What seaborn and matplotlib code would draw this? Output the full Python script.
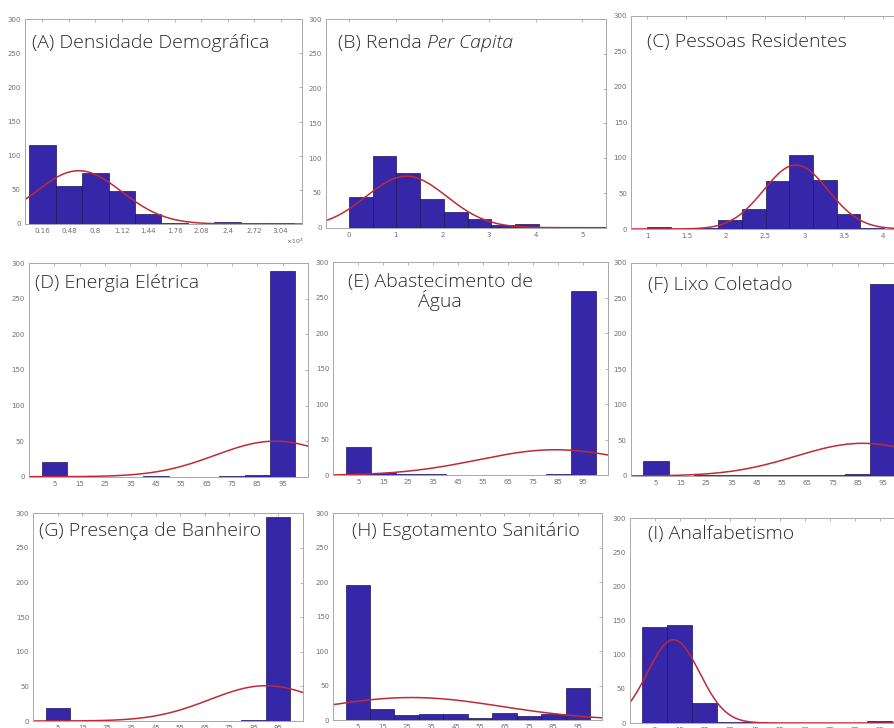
import numpy as np
import matplotlib
matplotlib.use("Agg")
import matplotlib.pyplot as plt
import seaborn as sns

# contagens por classe (10 classes em cada painel)
dens_counts = [116, 56, 74, 49, 14, 1, 0, 3, 1, 1]
renda_counts = [44, 103, 79, 41, 22, 13, 4, 6, 1, 1]
pessoas_counts = [3, 0, 1, 12, 28, 68, 104, 69, 21, 2]
energia_counts = [20, 1, 0, 0, 1, 0, 0, 1, 2, 289]
agua_counts = [40, 3, 2, 2, 1, 0, 1, 1, 2, 259]
lixo_counts = [21, 0, 1, 1, 2, 1, 2, 2, 3, 270]
banheiro_counts = [19, 0, 0, 0, 0, 0, 0, 0, 1, 294]
esgoto_counts = [196, 16, 8, 9, 9, 3, 11, 6, 9, 47]
analf_counts = [141, 143, 29, 1, 1, 0, 0, 0, 0, 3]

# inicio e largura das classes
dens_bins = (0.0, 0.32)
renda_bins = (0.0, 0.508)
pessoas_bins = (1.0, 0.301)
pct_bins = (0.0, 10.0)

# ajuste normal (media, desvio, altura do pico)
dens_fit = (0.60, 0.52, 78)
renda_fit = (1.23, 0.865, 74)
pessoas_fit = (2.89, 0.41, 90)
energia_fit = (92, 23.5, 50)
agua_fit = (84, 31, 36)
lixo_fit = (87, 26.5, 46)
banheiro_fit = (90, 23, 51)
esgoto_fit = (27, 37, 33)
analf_fit = (12.5, 10.4, 122)

dens_ticks = [0.16, 0.48, 0.8, 1.12, 1.44, 1.76, 2.08, 2.4, 2.72, 3.04]
dens_labels = ["0.16", "0.48", "0.8", "1.12", "1.44", "1.76", "2.08", "2.4", "2.72", "3.04"]
renda_ticks = [0, 1, 2, 3, 4, 5]
pessoas_ticks = [1, 1.5, 2, 2.5, 3, 3.5, 4]
pessoas_labels = ["1", "1.5", "2", "2.5", "3", "3.5", "4"]
pct_ticks = [5, 15, 25, 35, 45, 55, 65, 75, 85, 95]
y_ticks = [0, 50, 100, 150, 200, 250, 300]

W, H = 894, 728
BAR = "#3527a8"
EDGE = "#1c145e"
CURVE = "#bf2a36"
TXT = "#2b2b2b"

sns.set_style("white")
plt.rcParams["font.family"] = ["DejaVu Sans"]

fig = plt.figure(figsize=(W / 100, H / 100), dpi=100)


def px_axes(l, t, r, b):
    return fig.add_axes([l / W, 1 - b / H, (r - l) / W, (b - t) / H])


def painel(box, counts, bins, fit, xlim, ticks, labels=None):
    ax = px_axes(*box)
    start, width = bins
    edges = [start + width * k for k in range(len(counts) + 1)]
    centers = [start + width * (k + 0.5) for k in range(len(counts))]
    sns.histplot(x=centers, weights=counts, bins=edges, ax=ax, color=BAR,
                 alpha=1, edgecolor=EDGE, linewidth=0.5)
    mu, sd, peak = fit
    xs = np.linspace(xlim[0], xlim[1], 300)
    ys = peak * np.exp(-0.5 * ((xs - mu) / sd) ** 2)
    sns.lineplot(x=xs, y=ys, ax=ax, color=CURVE, lw=1.1)
    ax.set_xlim(*xlim)
    ax.set_ylim(0, 300)
    ax.set_xticks(ticks)
    ax.set_xticklabels(labels if labels else [str(t) for t in ticks])
    ax.set_yticks(y_ticks)
    ax.set_ylabel("")
    ax.set_xlabel("")
    ax.tick_params(direction="in", length=2, width=0.5, top=True, right=True,
                   labelsize=5, labelcolor="#707070", color="#999999", pad=3)
    for s in ax.spines.values():
        s.set_color("#a8a8a8")
        s.set_linewidth(0.7)
    return ax


painel((25, 19, 302, 224), dens_counts, dens_bins, dens_fit, (-0.05, 3.3),
       dens_ticks, dens_labels)
painel((325.7, 19, 605.7, 227.7), renda_counts, renda_bins, renda_fit, (-0.5, 5.5),
       renda_ticks)
painel((631.3, 15.7, 899, 229), pessoas_counts, pessoas_bins, pessoas_fit, (0.8, 4.2),
       pessoas_ticks, pessoas_labels)
painel((29, 263.3, 308, 476.7), energia_counts, pct_bins, energia_fit, (-5, 105), pct_ticks)
painel((333.3, 262.3, 608, 475.3), agua_counts, pct_bins, agua_fit, (-5, 105), pct_ticks)
painel((630.7, 262.7, 908, 476), lixo_counts, pct_bins, lixo_fit, (-5, 105), pct_ticks)
painel((33.3, 513.3, 302.7, 721), banheiro_counts, pct_bins, banheiro_fit, (-5, 105), pct_ticks)
painel((333.3, 513.3, 602.3, 720.3), esgoto_counts, pct_bins, esgoto_fit, (-5, 105), pct_ticks)
painel((629.7, 518.3, 905, 723), analf_counts, pct_bins, analf_fit, (-5, 105), pct_ticks)

fig.text(286 / W, 1 - 241 / H, r"$\times10^4$", fontsize=4.5, color="#666666",
         ha="left", va="center")

# titulos dos paineis
tkw = dict(fontsize=14, color=TXT, family=["Open Sans", "DejaVu Sans"],
           weight="light", va="center")
fig.text(32 / W, 1 - 43 / H, "(A) Densidade Demográfica", ha="left", **tkw)
tb = fig.text(338 / W, 1 - 43 / H, "(B) Renda", ha="left", **tkw)
plt.annotate("Per Capita", xy=(1, 0.5), xycoords=tb, xytext=(4, 0),
             textcoords="offset points", style="italic", ha="left", **tkw)
fig.text(647 / W, 1 - 42 / H, "(C) Pessoas Residentes", ha="left", **tkw)
fig.text(35 / W, 1 - 283 / H, "(D) Energia Elétrica", ha="left", **tkw)
fig.text(440 / W, 1 - 292 / H, "(E) Abastecimento de\nÁgua", ha="center",
         multialignment="center", linespacing=0.95, **tkw)
fig.text(648 / W, 1 - 285 / H, "(F) Lixo Coletado", ha="left", **tkw)
fig.text(39 / W, 1 - 531 / H, "(G) Presença de Banheiro", ha="left", **tkw)
fig.text(352 / W, 1 - 531 / H, "(H) Esgotamento Sanitário", ha="left", **tkw)
fig.text(648 / W, 1 - 534 / H, "(I) Analfabetismo", ha="left", **tkw)

fig.savefig("out.png", dpi=100)
